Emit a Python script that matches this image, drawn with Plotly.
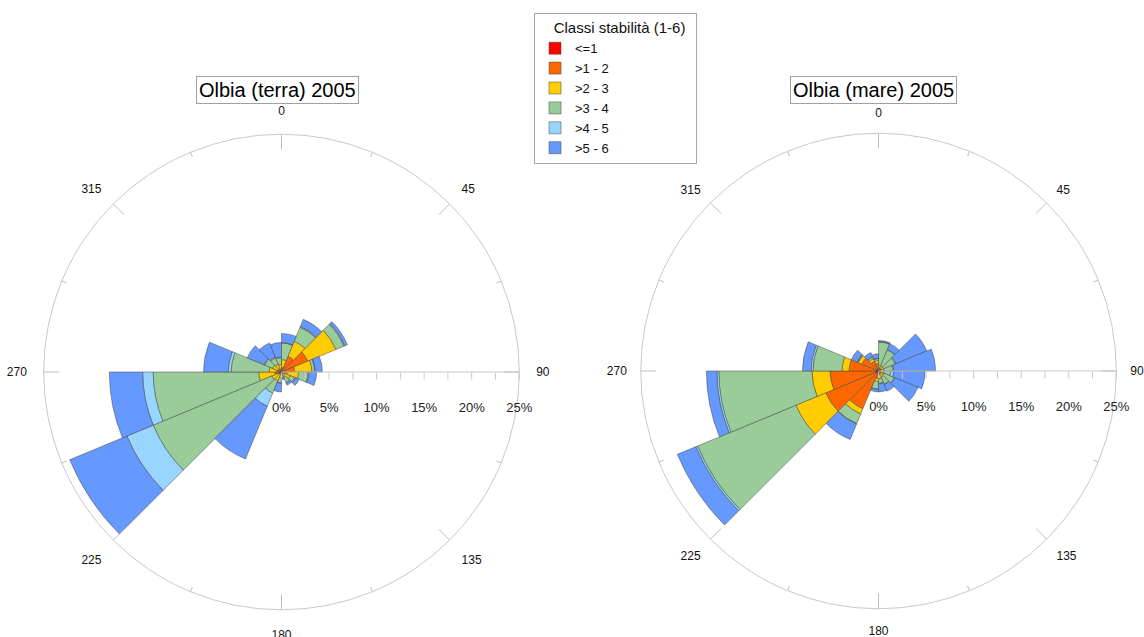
import plotly.graph_objects as go

# Sector centres (compass degrees, 22.5 deg sectors)
directions = [11.25 + 22.5 * i for i in range(16)]
classes = ["<=1", ">1 - 2", ">2 - 3", ">3 - 4", ">4 - 5", ">5 - 6"]
colors = ["#FF0000", "#FF6600", "#FFCC00", "#99CC99", "#99D6FF", "#6699FF"]

# Olbia (terra) 2005 - frequency (%) per sector and stability class
terra_c1 = [0.1, 0.1, 0.2, 0.1, 0.1, 0.1, 0.05, 0.05, 0.05, 0.1, 0.1, 0.1, 0.1, 0.1, 0.1, 0.05]
terra_c2 = [0.4, 1.7, 2.8, 1.3, 0.5, 0.2, 0.15, 0.1, 0.15, 0.2, 0.3, 0.6, 0.4, 0.3, 0.3, 0.25]
terra_c3 = [0.8, 1.7, 3.2, 1.8, 1.2, 0.7, 0.4, 0.15, 0.4, 0.7, 0.7, 1.7, 0.8, 0.6, 0.5, 0.5]
terra_c4 = [1.75, 1.6, 0.9, 0.3, 1.0, 0.5, 0.6, 0.3, 0.55, 1.4, 13.5, 11.1, 4.0, 0.9, 0.7, 0.7]
terra_c5 = [0.05, 0.1, 0.1, 0.05, 0.1, 0.1, 0.1, 0.05, 0.05, 1.5, 3.0, 1.1, 0.3, 0.1, 0.1, 0.1]
terra_c6 = [0.95, 0.8, 0.3, 0.75, 0.8, 0.4, 0.2, 0.15, 0.9, 6.0, 6.5, 3.5, 2.6, 1.9, 1.6, 1.5]

# Olbia (mare) 2005
mare_c1 = [0.1, 0.1, 0.1, 0.1, 0.1, 0.1, 0.1, 0.1, 0.2, 0.3, 0.3, 0.3, 0.3, 0.2, 0.1, 0.1]
mare_c2 = [0.2, 0.2, 0.2, 0.2, 0.2, 0.2, 0.2, 0.3, 0.6, 4.0, 5.7, 4.8, 2.8, 1.7, 1.0, 0.7]
mare_c3 = [0.3, 0.3, 0.3, 0.3, 0.3, 0.3, 0.4, 0.4, 0.3, 0.6, 3.4, 1.9, 0.75, 0.4, 0.3, 0.3]
mare_c4 = [2.45, 1.8, 1.3, 0.9, 0.7, 1.2, 0.8, 0.5, 0.8, 1.1, 11.2, 9.8, 3.05, 0.1, 0.2, 0.2]
mare_c5 = [0.05, 0.05, 0.1, 0.1, 0.3, 0.05, 0.05, 0.05, 0.05, 0.05, 0.2, 0.2, 0.2, 0.05, 0.05, 0.05]
mare_c6 = [0.1, 0.65, 3.5, 4.4, 3.3, 2.65, 0.75, 0.85, 0.25, 1.75, 2.1, 1.1, 0.9, 0.65, 0.45, 0.45]

terra = [terra_c1, terra_c2, terra_c3, terra_c4, terra_c5, terra_c6]
mare = [mare_c1, mare_c2, mare_c3, mare_c4, mare_c5, mare_c6]

angular_ticks = [0, 45, 90, 135, 180, 225, 270, 315]
radial_ticks = [0, 2.5, 5, 7.5, 10, 12.5, 15, 17.5, 20, 22.5, 25]
radial_labels = ["<br>0%", "", "<br>5%", "", "<br>10%", "", "<br>15%", "", "<br>20%", "", "<br>25%"]
RMAX = 25

fig = go.Figure()

for subplot, data, show in (("polar", terra, True), ("polar2", mare, False)):
    for name, col, vals in zip(classes, colors, data):
        fig.add_trace(go.Barpolar(
            r=vals, theta=directions, width=[22.5] * 16,
            name=name, marker=dict(color=col, line=dict(color="rgba(70,70,70,0.85)", width=0.6)),
            subplot=subplot, showlegend=show, legendgroup=name,
        ))
    # angular tick marks (inside the outer circle)
    for k in range(16):
        ang = 22.5 * k
        ln = 1.6 if k % 2 == 0 else 0.55
        fig.add_trace(go.Scatterpolar(
            r=[RMAX - ln, RMAX], theta=[ang, ang], mode="lines",
            line=dict(color="#bdbdbd", width=1), subplot=subplot,
            showlegend=False, hoverinfo="skip",
        ))

def polar_layout(xd, yd, tl):
    return dict(
        domain=dict(x=xd, y=yd),
        bgcolor="white",
        hole=0,
        barmode="stack",
        angularaxis=dict(
            rotation=90, direction="clockwise",
            tickvals=angular_ticks, ticktext=[str(t) for t in angular_ticks],
            showgrid=False, showline=True, linecolor="#c8c8c8", linewidth=1,
            ticks="outside", ticklen=tl, tickcolor="rgba(0,0,0,0)",
            tickfont=dict(family="Arial, Liberation Sans", size=12, color="#111"),
        ),
        radialaxis=dict(
            range=[0, RMAX], angle=0, side="clockwise",
            tickvals=radial_ticks, ticktext=radial_labels,
            showgrid=False, showline=True, linecolor="#c8c8c8", linewidth=1,
            ticks="outside", ticklen=7, tickcolor="#c8c8c8",
            tickfont=dict(family="Arial, Liberation Sans", size=13, color="#222"),
            tickangle=0,
        ),
    )

legend_title = "&nbsp;&nbsp;&nbsp;&nbsp;Classi stabilità (1-6)&nbsp;&nbsp;"

fig.update_layout(
    width=1144, height=637,
    margin=dict(l=0, r=0, t=0, b=0),
    paper_bgcolor="white",
    font=dict(family="Arial, Liberation Sans", color="#111"),
    polar=polar_layout([0.0382, 0.4539], [0.0427, 0.7893], 14),
    polar2=polar_layout([0.5601, 0.9758], [0.0443, 0.7909], 11),
    legend=dict(
        title=dict(text=legend_title, font=dict(size=15), side="top"),
        x=0.4668, y=0.98, xanchor="left", yanchor="top",
        bordercolor="#a8a8a8", borderwidth=1, bgcolor="white",
        font=dict(size=13), traceorder="normal", tracegroupgap=0,
    ),
    annotations=[
        dict(text="Olbia (terra) 2005", x=277.5 / 1144, y=1 - 90.5 / 637, xref="paper", yref="paper",
             xanchor="center", yanchor="middle",
             showarrow=False, font=dict(size=20, color="#000"), bordercolor="#a0a0a0",
             borderwidth=1, borderpad=2, bgcolor="white"),
        dict(text="Olbia (mare) 2005", x=873.5 / 1144, y=1 - 90.5 / 637, xref="paper", yref="paper",
             xanchor="center", yanchor="middle",
             showarrow=False, font=dict(size=20, color="#000"), bordercolor="#a0a0a0",
             borderwidth=1, borderpad=2, bgcolor="white"),
    ],
)

fig.write_html("out.html", config={"displayModeBar": False},
               post_script="document.body.style.margin='0';")
